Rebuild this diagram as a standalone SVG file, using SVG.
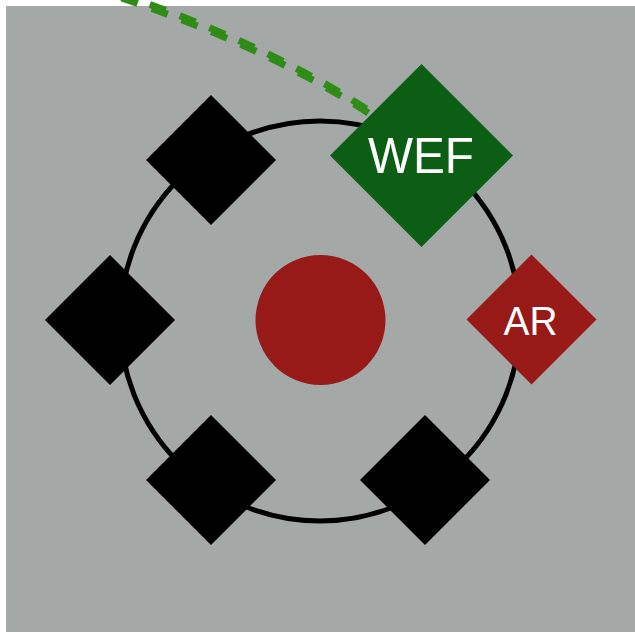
<svg xmlns="http://www.w3.org/2000/svg" width="635" height="632" viewBox="0 0 635 632">
  <style>
    .bg { fill: #a4a8a6; }
    .ring { fill: none; stroke: #000000; stroke-width: 5; }
    .link { fill: none; stroke: #2f8c17; stroke-width: 7; stroke-dasharray: 17 15; }
    .black { fill: #000000; }
    .wef { fill: #0c5e14; }
    .red { fill: #971a18; }
    .label { fill: #ffffff; font-family: "Liberation Sans", Arial, sans-serif; text-anchor: middle; }
  </style>
  <rect width="635" height="632" fill="#ffffff"/>
  <rect class="bg" x="6" y="6" width="629" height="626"/>
  <g id="connectors">
    <path class="link" transform="translate(-1,-2)" d="M 90,-14 Q 258,39 372,114"/>
    <path class="link" transform="translate(1,2)" d="M 90,-14 Q 258,39 372,114"/>
  </g>
  <g id="ring">
    <circle class="ring" cx="320" cy="321" r="200"/>
  </g>
  <g id="center">
    <circle class="red" cx="320.5" cy="320" r="65"/>
  </g>
  <g id="node-top-left">
    <polygon class="black" points="211,95 276,160 211,225 146,160"/>
  </g>
  <g id="node-left">
    <polygon class="black" points="110,255 175,320 110,385 45,320"/>
  </g>
  <g id="node-bottom-left">
    <polygon class="black" points="211,415 276,480 211,545 146,480"/>
  </g>
  <g id="node-bottom-right">
    <polygon class="black" points="425,415 490,480 425,545 360,480"/>
  </g>
  <g id="node-wef">
    <polygon class="wef" points="421.5,64 513,155.5 421.5,247 330,155.5"/>
    <text class="label" x="421" y="173" font-size="50" textLength="106" lengthAdjust="spacingAndGlyphs">WEF</text>
  </g>
  <g id="node-ar">
    <polygon class="red" points="531.5,254.5 596.5,319.5 531.5,384.5 466.5,319.5"/>
    <text class="label" x="530.5" y="335" font-size="40" textLength="54" lengthAdjust="spacingAndGlyphs">AR</text>
  </g>
</svg>
